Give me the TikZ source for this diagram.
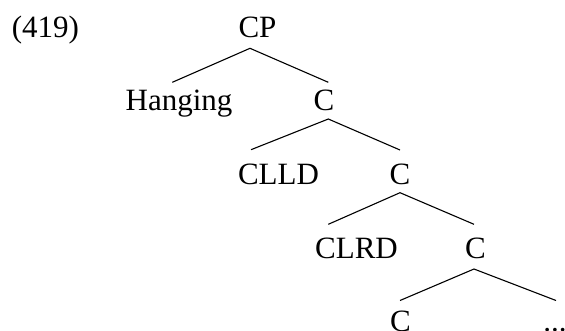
\documentclass[tikz,border=0pt]{standalone}
\usepackage{fontspec}
\setmainfont{Liberation Serif}
\begin{document}
\begin{tikzpicture}[x=1pt,y=-1pt,
    lbl/.style={anchor=base,inner sep=0pt,font=\fontsize{31}{37}\selectfont},
    branch/.style={line width=1.1pt}]
  \clip (0,0) rectangle (565,330);
  % labels
  \node[lbl] (ex)   at (45.5,37)   {(419)};
  \node[lbl] (cp)   at (257.5,37)  {CP};
  \node[lbl] (hang) at (179,110)   {Hanging};
  \node[lbl] (c1)   at (324,110)   {C};
  \node[lbl] (clld) at (278.5,184) {CLLD};
  \node[lbl] (c2)   at (400,184)   {C};
  \node[lbl] (clrd) at (356.5,258) {CLRD};
  \node[lbl] (c3)   at (475.5,258) {C};
  \node[lbl] (c4)   at (400.5,331.5) {C};
  \node[lbl] (dots) at (555,331.5) {...};
  % branch points
  \coordinate (a0) at (250,48.3);   \coordinate (l0) at (172.3,82.3); \coordinate (r0) at (328.3,82.3);
  \coordinate (a1) at (328.3,119);  \coordinate (l1) at (251,149.7);  \coordinate (r1) at (400,150);
  \coordinate (a2) at (400,192.7);  \coordinate (l2) at (328.3,224.3); \coordinate (r2) at (474,224.3);
  \coordinate (a3) at (474,269);    \coordinate (l3) at (400,300.5);  \coordinate (r3) at (556,300.5);
  % branches
  \draw[branch] (l0) -- (a0) -- (r0);
  \draw[branch] (l1) -- (a1) -- (r1);
  \draw[branch] (l2) -- (a2) -- (r2);
  \draw[branch] (l3) -- (a3) -- (r3);
\end{tikzpicture}
\end{document}
